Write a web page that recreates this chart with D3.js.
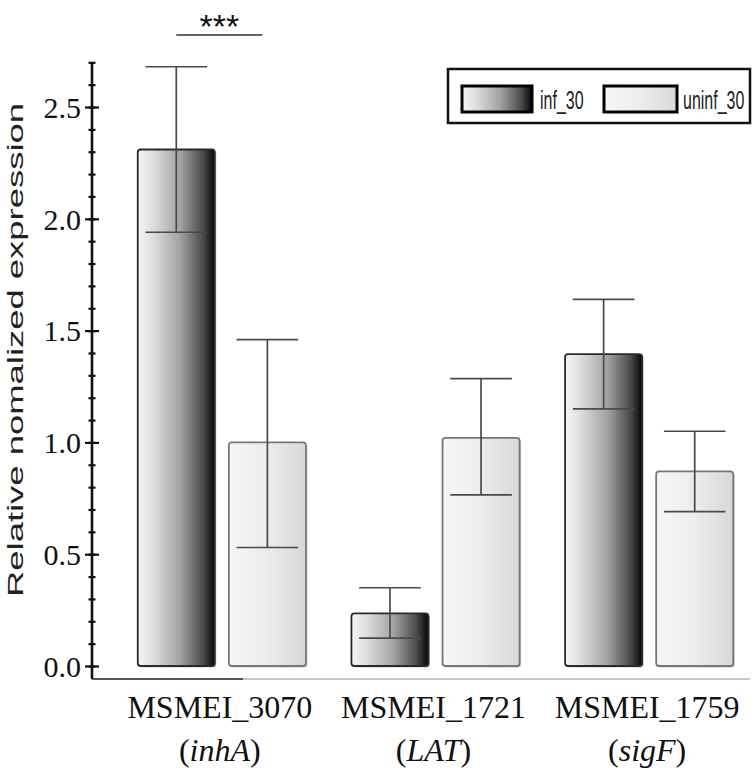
<!DOCTYPE html>
<html>
<head>
<meta charset="utf-8">
<script src="https://cdn.jsdelivr.net/npm/d3@7"></script>
<style>
  body { margin: 0; background: #fff; }
  svg { display: block; }
</style>
</head>
<body>
<div id="chart"></div>
<script>
// data
const genes = ['MSMEI_3070', 'MSMEI_1721', 'MSMEI_1759']
const geneNames = ['inhA', 'LAT', 'sigF']
const series = ['inf_30', 'uninf_30']
const infMean = [2.31, 0.235, 1.395]
const infLow = [1.94, 0.125, 1.15]
const infHigh = [2.68, 0.35, 1.64]
const uninfMean = [1.0, 1.02, 0.87]
const uninfLow = [0.53, 0.765, 0.69]
const uninfHigh = [1.46, 1.285, 1.05]
const yTicks = [0, 0.5, 1.0, 1.5, 2.0, 2.5]

const width = 756
const height = 768
const serif = '"Liberation Serif", "Times New Roman", serif'
const sans = '"Liberation Sans", Arial, sans-serif'

const svg = d3.select('#chart').append('svg')
  .attr('width', width)
  .attr('height', height)

// gradients for the two series
const defs = svg.append('defs')
const gInf = defs.append('linearGradient').attr('id', 'g-inf')
;[[0, '#f6f6f6'], [0.2, '#dddddd'], [0.55, '#a2a2a2'], [0.85, '#4a4a4a'], [1, '#050505']]
  .forEach(s => gInf.append('stop').attr('offset', s[0]).attr('stop-color', s[1]))
const gUninf = defs.append('linearGradient').attr('id', 'g-uninf')
;[[0, '#f7f7f7'], [0.5, '#ececec'], [1, '#d8d8d8']]
  .forEach(s => gUninf.append('stop').attr('offset', s[0]).attr('stop-color', s[1]))
const fills = { inf_30: 'url(#g-inf)', uninf_30: 'url(#g-uninf)' }
const strokes = { inf_30: '#2a2a2a', uninf_30: '#777' }

// scales
const y = d3.scaleLinear().domain([0, 2.7]).range([666, 62.3])
const x0 = d3.scaleBand().domain(genes).range([115, 756])
  .paddingInner(0.213).paddingOuter(0.1065)
const x1 = d3.scaleBand().domain(series).range([0, x0.bandwidth()]).paddingInner(0.154)

const rows = []
genes.forEach((g, i) => {
  rows.push({ gene: g, s: 'inf_30', v: infMean[i], lo: infLow[i], hi: infHigh[i] })
  rows.push({ gene: g, s: 'uninf_30', v: uninfMean[i], lo: uninfLow[i], hi: uninfHigh[i] })
})

// x axis baseline (light, with darker start)
svg.append('line').attr('x1', 92).attr('x2', 750).attr('y1', 679).attr('y2', 679)
  .attr('stroke', '#b5b5b5').attr('stroke-width', 1.5)
svg.append('line').attr('x1', 92).attr('x2', 243).attr('y1', 679).attr('y2', 679)
  .attr('stroke', '#555').attr('stroke-width', 2)

// bars
const bars = svg.append('g').selectAll('g').data(rows).join('g')
bars.append('rect') // soft shadow
  .attr('x', d => x0(d.gene) + x1(d.s) + 1.5)
  .attr('y', d => y(d.v) + 1.5)
  .attr('width', x1.bandwidth())
  .attr('height', d => y(0) - y(d.v))
  .attr('rx', 3)
  .attr('fill', '#c8c8c8')
bars.append('rect')
  .attr('x', d => x0(d.gene) + x1(d.s))
  .attr('y', d => y(d.v))
  .attr('width', x1.bandwidth())
  .attr('height', d => y(0) - y(d.v))
  .attr('rx', 3)
  .attr('fill', d => fills[d.s])
  .attr('stroke', d => strokes[d.s])
  .attr('stroke-width', 1.8)

// error bars
const cap = x1.bandwidth() * 0.4
const errs = svg.append('g').attr('stroke', '#4a4a4a').attr('stroke-width', 1.7)
  .selectAll('g').data(rows).join('g')
  .attr('transform', d => `translate(${x0(d.gene) + x1(d.s) + x1.bandwidth() / 2},0)`)
errs.append('line').attr('y1', d => y(d.lo)).attr('y2', d => y(d.hi))
errs.append('line').attr('x1', -cap).attr('x2', cap).attr('y1', d => y(d.hi)).attr('y2', d => y(d.hi))
errs.append('line').attr('x1', -cap).attr('x2', cap).attr('y1', d => y(d.lo)).attr('y2', d => y(d.lo))

// y axis, ticks cross the line on both sides
const yAxis = svg.append('g').attr('transform', 'translate(92,0)')
yAxis.append('g')
  .call(d3.axisLeft(y).tickValues(d3.range(0, 27.5, 1).map(v => v / 10)).tickSize(3.5).tickFormat(''))
  .call(g => g.selectAll('.tick line').attr('x1', -3.5).attr('x2', 3.5).attr('stroke-width', 2.2).attr('stroke', '#111'))
  .call(g => g.select('.domain').remove())
yAxis.append('g')
  .call(d3.axisLeft(y).tickValues(yTicks).tickSize(7).tickPadding(6).tickFormat(d3.format('.1f')))
  .call(g => g.selectAll('.tick line').attr('x1', -7).attr('x2', 7).attr('stroke-width', 2.2).attr('stroke', '#111'))
  .call(g => g.select('.domain').remove())
  .call(g => g.selectAll('.tick text').attr('font-family', serif).attr('font-size', 30)
    .attr('fill', '#111').attr('dy', '0.34em').attr('x', -11))
yAxis.append('line').attr('y1', y(2.7)).attr('y2', 679).attr('stroke', '#111').attr('stroke-width', 2.6)

// y title
svg.append('text')
  .attr('transform', 'translate(23,350) rotate(-90)')
  .attr('text-anchor', 'middle')
  .attr('font-family', sans).attr('font-size', 22).attr('fill', '#222')
  .attr('textLength', 494).attr('lengthAdjust', 'spacingAndGlyphs')
  .text('Relative nomalized expression')

// category labels
const labels = svg.append('g').selectAll('text').data(genes).join('text')
  .attr('text-anchor', 'middle')
  .attr('font-family', serif).attr('font-size', 32).attr('fill', '#111')
  .attr('x', d => x0(d) + x0.bandwidth() / 2 - 2)
labels.append('tspan').attr('y', 718).text(d => d)
labels.append('tspan').attr('x', d => x0(d) + x0.bandwidth() / 2 - 2).attr('y', 761)
  .text('(')
  .append('tspan').attr('font-style', 'italic').text((d, i) => geneNames[i])
labels.selectAll('tspan:nth-child(2)').append('tspan').text(')')

// significance
const sx1 = x0(genes[0]) + x1('inf_30') + x1.bandwidth() / 2
const sx2 = x0(genes[0]) + x1('uninf_30') + x1.bandwidth() / 2 - 5
svg.append('line').attr('x1', sx1).attr('x2', sx2).attr('y1', 35).attr('y2', 35)
  .attr('stroke', '#333').attr('stroke-width', 1.5)
svg.append('text').attr('x', (sx1 + sx2) / 2).attr('y', 38)
  .attr('text-anchor', 'middle').attr('font-family', sans).attr('font-size', 34)
  .attr('fill', '#111').text('***')

// legend
const leg = svg.append('g')
leg.append('rect').attr('x', 448).attr('y', 69).attr('width', 302).attr('height', 54)
  .attr('fill', '#fff').attr('stroke', '#111').attr('stroke-width', 2.5)
const legX = { inf_30: 462, uninf_30: 604 }
const legItems = leg.selectAll('g').data(series).join('g')
  .attr('transform', d => `translate(${legX[d]},86)`)
legItems.append('rect').attr('width', d => d === 'inf_30' ? 70 : 73).attr('height', 26)
  .attr('fill', d => fills[d]).attr('stroke', '#000').attr('stroke-width', 3)
legItems.append('text')
  .attr('transform', d => `translate(${d === 'inf_30' ? 78 : 79},23) scale(1,1.6)`)
  .attr('font-family', sans).attr('font-size', 16).attr('fill', '#222')
  .text(d => d)
</script>
</body>
</html>
